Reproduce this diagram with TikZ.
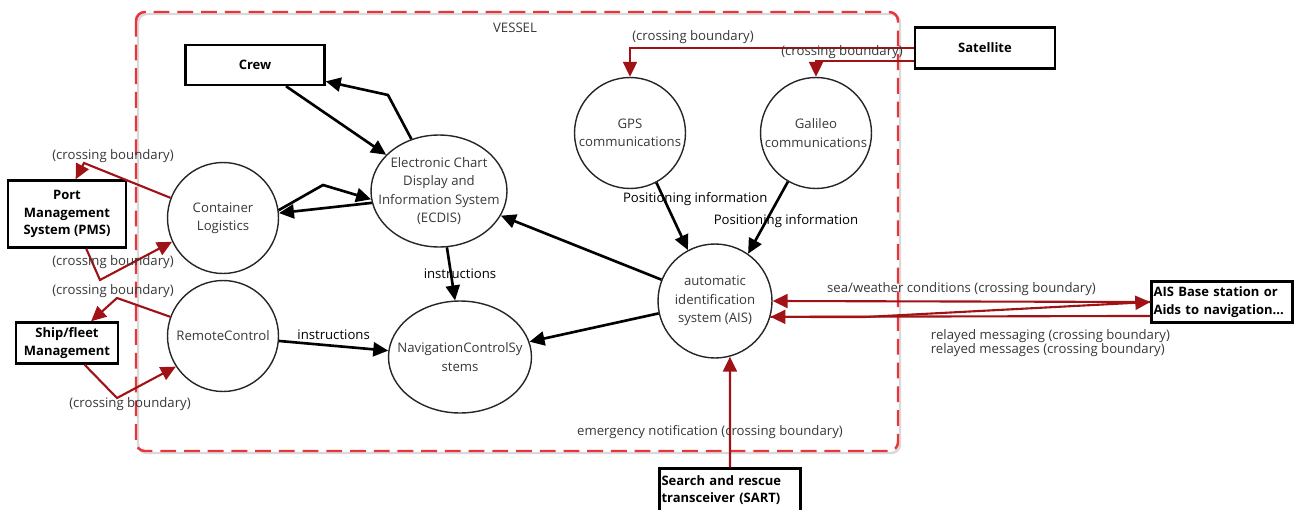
\documentclass[tikz,border=0pt]{standalone}
\usepackage{fontspec}
\setmainfont{Open Sans}
\usetikzlibrary{arrows.meta}
\usetikzlibrary{shapes.geometric}

\definecolor{boundaryred}{RGB}{232,52,58}
\definecolor{crossred}{RGB}{160,18,22}
\definecolor{softgrey}{RGB}{56,56,56}

\begin{document}
\begin{tikzpicture}[x=0.02cm, y=-0.02cm, font=\fontsize{7.5}{10.5}\selectfont]
    \tikzstyle{process} = [circle, draw=black!85, line width=0.8pt, minimum size=2.22cm, inner sep=0pt, align=center, text=softgrey]
    \tikzstyle{wideprocess} = [ellipse, draw=black!85, line width=0.8pt, minimum height=2.24cm, inner xsep=-0.6cm, inner ysep=0pt, align=center, text=softgrey]
    \tikzstyle{entity} = [draw, line width=1.4pt, inner sep=1pt, align=center, font=\fontsize{7.4}{10}\selectfont\bfseries]
    \tikzstyle{flow} = [line width=1.5pt, -{Triangle[length=3mm, width=2.8mm]}]
    \tikzstyle{crossing} = [crossred, line width=1.2pt, -{Triangle[length=3mm, width=2.8mm]}]
    \tikzstyle{flowlabel} = [text=black, inner sep=1pt]
    \tikzstyle{crosslabel} = [text=softgrey, inner sep=1pt]

    \useasboundingbox (0,0) rectangle (1294,510);
    \draw[black!15, line width=1.4pt, rounded corners=5pt] (138,14) rectangle (900,453);
    \draw[boundaryred, line width=1.4pt, dash pattern=on 9pt off 4.5pt, rounded corners=5pt] (136,12) rectangle (898,451);
    \node[text=softgrey] (vessel) at (515,28) {VESSEL};

    \node[entity, minimum width=2.78cm, minimum height=0.8cm] (crew) at (255,65) {Crew};
    \node[entity, minimum width=2.8cm, minimum height=0.82cm] (sat) at (985,48) {Satellite};
    \node[entity, minimum width=2.36cm, minimum height=1.34cm] (pms) at (67,214) {Port\\Management\\System (PMS)};
    \node[entity, minimum width=2.04cm, minimum height=0.82cm] (ship) at (67,343) {Ship/fleet\\Management};
    \node[entity, minimum width=2.82cm, minimum height=0.82cm, text width=2.74cm, align=left] (base) at (1222,302) {AIS Base station or\\Aids to navigation...};
    \node[entity, minimum width=2.82cm, minimum height=0.86cm, text width=2.74cm, align=left] (sart) at (730,490) {Search and rescue\\transceiver (SART)};

    \node[process] (gps) at (630,133) {GPS\\communications};
    \node[process] (galileo) at (816,133) {Galileo\\communications};
    \node[process] (container) at (223,218) {Container\\Logistics};
    \node[process] (remote) at (223,336) {RemoteControl};
    \node[process, minimum size=2.28cm] (ais) at (715,301) {automatic\\identification\\system (AIS)};
    \node[wideprocess, minimum width=2.72cm] (ecdis) at (439,191) {Electronic Chart\\Display and\\Information System\\(ECDIS)};
    \node[wideprocess, minimum width=2.86cm] (nav) at (460,357) {NavigationControlSy\\stems};

    \draw[flow] (crew) -- (ecdis);
    \draw[flow] (ecdis.118) -- (388,95) -- (crew.-13);
    \draw[flow] (ecdis.190) -- (container.5);
    \draw[flow] (container.8) -- (323,185) -- (ecdis.187);
    \draw[flow] (ecdis.-82) -- node[flowlabel, xshift=0.18cm] {instructions} (nav.95);
    \draw[flow] (remote) -- node[flowlabel, above=2pt] {instructions} (nav);
    \draw[flow] (ais) -- (ecdis);
    \draw[flow] (ais) -- (nav);
    \draw[flow] (gps.-62) -- node[flowlabel, pos=0.25, xshift=0.62cm] {Positioning information} (ais.118);
    \draw[flow] (galileo.-120) -- node[flowlabel, pos=0.55, xshift=0.4cm] {Positioning information} (ais.55);

    \draw[crossing] (sat.west) -| node[crosslabel, pos=0.5, xshift=1.26cm, yshift=0.22cm] {(crossing boundary)} (gps);
    \draw[crossing] (sat.190) -| node[crosslabel, pos=0.5, xshift=0.52cm, yshift=0.16cm] {(crossing boundary)} (galileo);
    \draw[crossing] (container.159) -- (84,163) node[crosslabel, xshift=0.58cm, yshift=0.14cm] {(crossing boundary)} -- (pms.76);
    \draw[crossing] (pms.-61) -- (100,280) node[crosslabel, xshift=0.26cm, yshift=0.36cm] {(crossing boundary)} -- (container.205);
    \draw[crossing] (remote.160) -- (117,298) node[crosslabel, xshift=-0.08cm, yshift=0.14cm] {(crossing boundary)} -- (ship.42);
    \draw[crossing] (ship.-51) -- (117,398) node[crosslabel, xshift=0.26cm, yshift=-0.12cm] {(crossing boundary)} -- (remote.213);
    \draw[crossing] (base.west) -- node[crosslabel, yshift=0.24cm] {sea/weather conditions (crossing boundary)} (ais.east);
    \draw[crossing] (ais.-16) -- (865,317) -- node[crosslabel, pos=0.65, yshift=-0.58cm] {relayed messaging (crossing boundary)} (base.west);
    \draw[crossing] (base.191) -- node[crosslabel, pos=0.27, yshift=-0.68cm] {relayed messages (crossing boundary)} (ais.-16);
    \draw[crossing] (sart.north) -- node[crosslabel, pos=0.32, xshift=-0.4cm] {emergency notification (crossing boundary)} (ais.-75);
\end{tikzpicture}
\end{document}
